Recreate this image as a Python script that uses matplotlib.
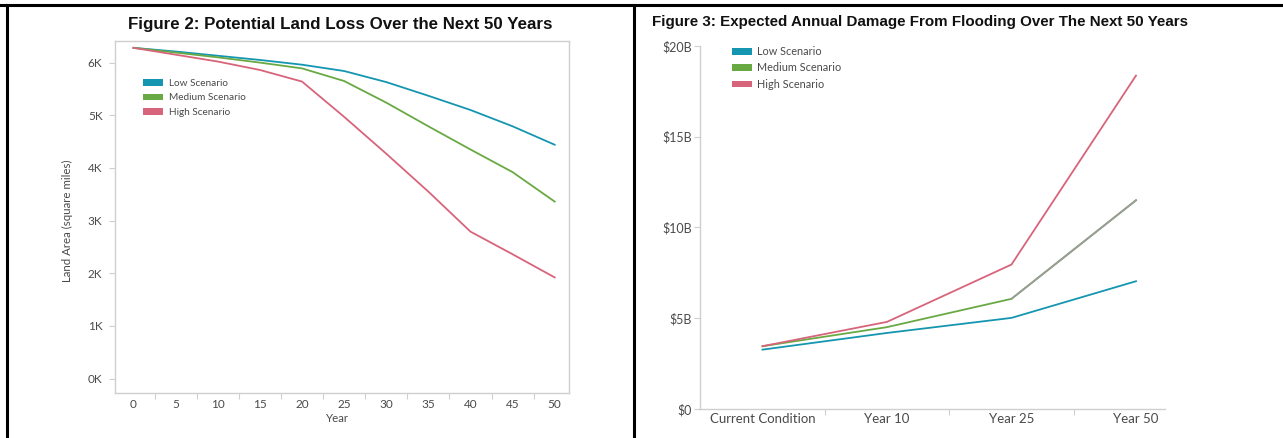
import matplotlib
matplotlib.use("Agg")
import matplotlib.pyplot as plt
from matplotlib.lines import Line2D
from matplotlib.patches import Patch

# ---- data -------------------------------------------------------------
years = [0, 5, 10, 15, 20, 25, 30, 35, 40, 45, 50]
land_low = [6.28, 6.21, 6.13, 6.05, 5.96, 5.84, 5.63, 5.37, 5.10, 4.79, 4.44]
land_medium = [6.28, 6.19, 6.10, 6.00, 5.89, 5.65, 5.24, 4.79, 4.35, 3.92, 3.36]
land_high = [6.28, 6.15, 6.02, 5.86, 5.64, 4.97, 4.27, 3.55, 2.79, 2.36, 1.92]
land_ticks = [0, 1, 2, 3, 4, 5, 6]

periods = ["Current Condition", "Year 10", "Year 25", "Year 50"]
damage_low = [3.27, 4.19, 5.02, 7.04]
damage_medium = [3.46, 4.51, 6.07, 11.50]
damage_high = [3.46, 4.80, 7.96, 18.37]
damage_ticks = [0, 5, 10, 15, 20]
damage_tick_labels = ["$0", "$5B", "$10B", "$15B", "$20B"]

scenarios = ["Low Scenario", "Medium Scenario", "High Scenario"]

# ---- style ------------------------------------------------------------
C_LOW = "#1596b0"
C_MED = "#69a943"
C_HIGH = "#d8647b"
C_GRAY = "#9c9c9c"
AXIS = "#cfcfcf"
TXT = "#4a4a4a"
BODY_FONT = ["Lato", "DejaVu Sans"]
TITLE_FONT = ["Liberation Sans", "DejaVu Sans"]

W, H = 1283, 438
fig = plt.figure(figsize=(W / 100, H / 100), dpi=100)
fig.patch.set_facecolor("white")


def px_axes(left, top, right, bottom):
    return fig.add_axes([left / W, 1 - bottom / H, (right - left) / W, (bottom - top) / H])


def px_xy(x, y):
    return (x / W, 1 - y / H)


# ---- page frame ---------------------------------------------------------
for xs, ys in [([0, W], [5, 5]), ([7, 7], [5, H]), ([634, 634], [5, H])]:
    fig.add_artist(Line2D([x / W for x in xs], [1 - y / H for y in ys],
                          color="black", lw=2.2, transform=fig.transFigure))

# ---- Figure 2: land area ------------------------------------------------
ax1 = px_axes(115, 41, 569, 393)
ax1.plot(years, land_low, color=C_LOW, lw=1.3, zorder=3)
ax1.plot(years, land_medium, color=C_MED, lw=1.3, zorder=3)
ax1.plot(years, land_high, color=C_HIGH, lw=1.3, zorder=3)
ax1.set_xlim(-2.2, 51.7)
ax1.set_ylim(-0.275, 6.41)
for s in ax1.spines.values():
    s.set_color(AXIS)
    s.set_linewidth(1.0)
ax1.set_yticks(land_ticks)
ax1.set_yticklabels([f"{v}K" for v in land_ticks], fontfamily=BODY_FONT)
ax1.set_xticks(years)
ax1.set_xticklabels([str(y) for y in years], fontfamily=BODY_FONT)
ax1.set_xticks([y + 2.5 for y in years[:-1]], minor=True)
ax1.tick_params(axis="y", length=4, width=0.8, color=AXIS, labelsize=8.5,
                labelcolor=TXT, pad=5)
ax1.tick_params(axis="x", which="major", length=0, labelsize=8.5,
                labelcolor=TXT, pad=4)
ax1.tick_params(axis="x", which="minor", length=4, width=0.8, color=AXIS)
ax1.set_ylabel("Land Area (square miles)", fontsize=8.3, color=TXT,
               fontfamily=BODY_FONT)
ax1.yaxis.set_label_coords(-0.092, 0.49)
ax1.set_xlabel("Year", fontsize=8.3, color=TXT, fontfamily=BODY_FONT)
ax1.xaxis.set_label_coords(0.489, -0.058)

handles = [Patch(facecolor=c, edgecolor="none") for c in (C_LOW, C_MED, C_HIGH)]
fig.legend(handles, scenarios, loc="upper left",
           bbox_to_anchor=px_xy(143, 79), frameon=False,
           prop={"family": BODY_FONT, "size": 7.2}, labelcolor=TXT,
           handlelength=2.0, handleheight=0.6, handletextpad=0.6,
           labelspacing=0.55, borderpad=0, borderaxespad=0)

fig.text(*px_xy(340, 25), "Figure 2: Potential Land Loss Over the Next 50 Years",
         ha="center", va="center", fontsize=12.2, fontweight="bold",
         fontfamily=TITLE_FONT, color="#111111")

# ---- Figure 3: flood damage ---------------------------------------------
pos = list(range(len(periods)))
ax2 = px_axes(700, 46, 1165, 409)
ax2.plot(pos, damage_low, color=C_LOW, lw=1.3, zorder=3)
ax2.plot(pos, damage_medium, color=C_MED, lw=1.3, zorder=3)
ax2.plot(pos[2:], damage_medium[2:], color=C_GRAY, lw=1.3, zorder=3)
ax2.plot(pos, damage_high, color=C_HIGH, lw=1.3, zorder=4)
ax2.set_xlim(-0.502, 3.233)
ax2.set_ylim(0, 20)
for side in ("top", "right"):
    ax2.spines[side].set_visible(False)
for side in ("left", "bottom"):
    ax2.spines[side].set_color(AXIS)
    ax2.spines[side].set_linewidth(1.0)
ax2.set_yticks(damage_ticks)
ax2.set_yticklabels(damage_tick_labels, fontfamily=BODY_FONT)
ax2.set_xticks(pos)
ax2.set_xticklabels(periods, fontfamily=BODY_FONT)
ax2.set_xticks([p + 0.5 for p in pos[:-1]], minor=True)
ax2.tick_params(axis="y", length=4, width=0.8, color=AXIS, labelsize=9,
                labelcolor=TXT, pad=2)
ax2.tick_params(axis="x", which="major", length=0, labelsize=9.5,
                labelcolor=TXT, pad=3)
ax2.tick_params(axis="x", which="minor", length=4, width=0.8, color=AXIS)

fig.legend(handles, scenarios, loc="upper left",
           bbox_to_anchor=px_xy(732, 46), frameon=False,
           prop={"family": BODY_FONT, "size": 7.8}, labelcolor=TXT,
           handlelength=1.8, handleheight=0.6, handletextpad=0.5,
           labelspacing=0.5, borderpad=0, borderaxespad=0)

fig.text(*px_xy(652, 22),
         "Figure 3: Expected Annual Damage From Flooding Over The Next 50 Years",
         ha="left", va="center", fontsize=10.9, fontweight="bold",
         fontfamily=TITLE_FONT, color="#111111")

fig.savefig("out.png", dpi=100, facecolor="white")
